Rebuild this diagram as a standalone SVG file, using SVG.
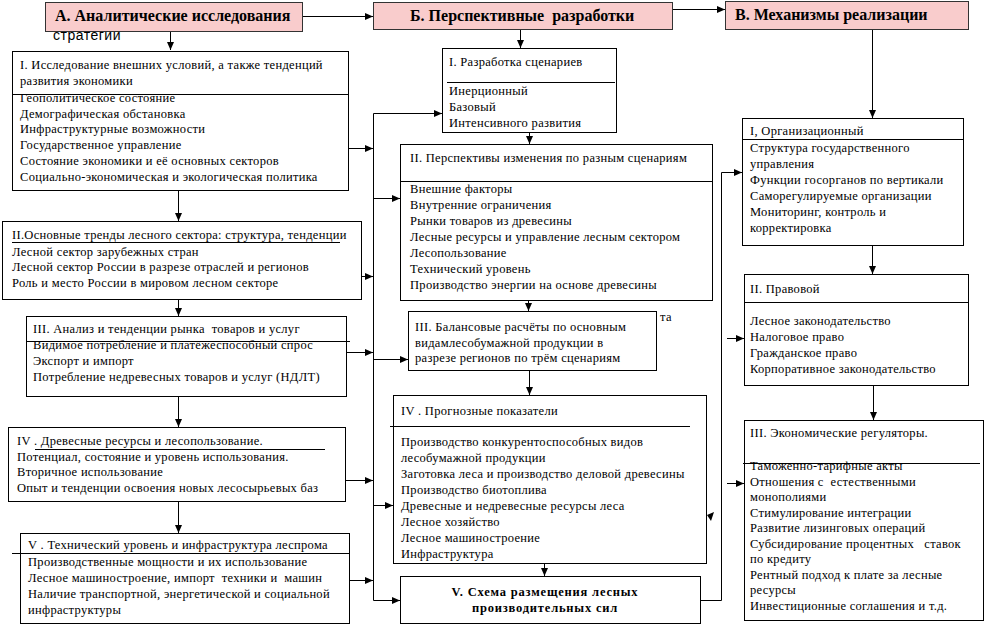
<svg xmlns="http://www.w3.org/2000/svg" width="1001" height="628" viewBox="0 0 1001 628">
<defs>
<marker id="ar" markerUnits="userSpaceOnUse" markerWidth="9" markerHeight="8" refX="8" refY="4" orient="auto">
<path d="M0,0.5 L8,4 L0,7.5 Z" fill="#000"/>
</marker>
</defs>
<style>
.box{fill:#fff;stroke:#000;stroke-width:1}
.hdr{fill:#f9cccc;stroke:#333;stroke-width:1}
.dv{stroke:#000;stroke-width:1;fill:none}
.ln{stroke:#000;stroke-width:1;fill:none}
.a{marker-end:url(#ar)}
.t{font-family:"Liberation Serif","Times New Roman",serif;font-size:12.5px;letter-spacing:0.3px;fill:#000;white-space:pre}
.h{font-family:"Liberation Serif","Times New Roman",serif;font-size:16px;font-weight:bold;fill:#000;white-space:pre}
.b{font-family:"Liberation Serif","Times New Roman",serif;font-size:12.5px;font-weight:bold;letter-spacing:0.8px;fill:#000;text-anchor:middle}
.s{font-family:"Liberation Sans",Arial,sans-serif;font-size:14px;letter-spacing:0.5px;fill:#000}
</style>
<rect width="1001" height="628" fill="#fff"/>

<g id="connectors">
<path class="ln a" d="M302 16.5 H373"/>
<path class="ln a" d="M672 9.5 H725"/>
<path class="ln a" d="M170.5 32 V50"/>
<path class="ln a" d="M178.5 190 V221"/>
<path class="ln a" d="M178.5 300 V316"/>
<path class="ln a" d="M178.5 397 V427"/>
<path class="ln a" d="M178.5 502 V533"/>
<path class="ln a" d="M373.5 600.5 V113.5 H442"/>
<path class="ln a" d="M373.5 600.5 H400"/>
<path class="ln a" d="M348 148.5 H373"/>
<path class="ln a" d="M362 276.5 H373"/>
<path class="ln a" d="M346 352.5 H373"/>
<path class="ln a" d="M345 480.5 H373"/>
<path class="ln a" d="M349 580.5 H373"/>
<path class="ln a" d="M373.5 198.5 H400"/>
<path class="ln a" d="M373.5 359.5 H408"/>
<path class="ln a" d="M373.5 505.5 H393"/>
<path class="ln a" d="M520.5 29 V48"/>
<path class="ln a" d="M529.5 132 V144"/>
<path class="ln a" d="M528.5 300 V311"/>
<path class="ln a" d="M529.5 370 V395"/>
<path class="ln a" d="M544.5 563 V576"/>
<path class="ln a" d="M700 600.5 H721.5 V172.5 H742"/>
<path class="ln a" d="M727 338.5 H744"/>
<path class="ln a" d="M727 483.5 H744"/>
<path class="ln a" d="M872.5 29 V118"/>
<path class="ln a" d="M872.5 245 V274"/>
<path class="ln a" d="M873.5 385 V420"/>
<polygon points="643,19 639.5,26 646.5,26" fill="#000"/>
<polygon points="702,479 698.5,486 705.5,486" fill="#000"/>
<polygon points="714,512 707,515 711,521" fill="#000"/>
</g>

<g id="hdrA">
<rect class="hdr" x="45.5" y="2.5" width="257" height="29"/>
<text class="h" x="55" y="21">А. Аналитические исследования</text>
</g>
<text class="s" x="53" y="40">стратегии</text>

<g id="hdrB">
<rect class="hdr" x="373.5" y="2.5" width="299" height="27"/>
<text class="h" x="410" y="21">Б. Перспективные  разработки</text>
</g>

<g id="hdrC">
<rect class="hdr" x="725.5" y="1.5" width="243" height="28"/>
<text class="h" x="735" y="20">В. Механизмы реализации</text>
</g>

<g id="A1">
<rect class="box" x="12.5" y="51.5" width="336" height="139"/>
<path class="dv" d="M12 94.5 H348"/>
<text class="t" x="20" y="69">I. Исследование внешних условий, а также тенденций</text>
<text class="t" x="20" y="85">развития экономики</text>
<text class="t" x="20" y="102">Геополитическое состояние</text>
<text class="t" x="20" y="118">Демографическая обстановка</text>
<text class="t" x="20" y="133">Инфраструктурные возможности</text>
<text class="t" x="20" y="149">Государственное управление</text>
<text class="t" x="20" y="165">Состояние экономики и её основных секторов</text>
<text class="t" x="20" y="181">Социально-экономическая и экологическая политика</text>
</g>

<g id="A2">
<rect class="box" x="2.5" y="221.5" width="359" height="78"/>
<path class="dv" d="M12 242.5 H340"/>
<text class="t" x="12" y="239">II.Основные тренды лесного сектора: структура, тенденции</text>
<text class="t" x="12" y="256">Лесной сектор зарубежных стран</text>
<text class="t" x="12" y="271">Лесной сектор России в разрезе отраслей и регионов</text>
<text class="t" x="12" y="287">Роль и место России в мировом лесном секторе</text>
</g>

<g id="A3">
<rect class="box" x="26.5" y="316.5" width="320" height="80"/>
<path class="dv" d="M26 341.5 H350"/>
<text class="t" x="33" y="333">III. Анализ и тенденции рынка  товаров и услуг</text>
<text class="t" x="33" y="349">Видимое потребление и платёжеспособный спрос</text>
<text class="t" x="33" y="365">Экспорт и импорт</text>
<text class="t" x="33" y="381">Потребление недревесных товаров и услуг (НДЛТ)</text>
</g>

<g id="A4">
<rect class="box" x="8.5" y="427.5" width="337" height="74"/>
<path class="dv" d="M35 449.5 H325"/>
<text class="t" x="17" y="445">IV . Древесные ресурсы и лесопользование.</text>
<text class="t" x="17" y="461">Потенциал, состояние и уровень использования.</text>
<text class="t" x="17" y="476">Вторичное использование</text>
<text class="t" x="17" y="492">Опыт и тенденции освоения новых лесосырьевых баз</text>
</g>

<g id="A5">
<rect class="box" x="20.5" y="533.5" width="329" height="90"/>
<path class="dv" d="M12 553.5 H349"/>
<text class="t" x="28" y="549">V . Технический уровень и инфраструктура леспрома</text>
<text class="t" x="28" y="566">Производственные мощности и их использование</text>
<text class="t" x="28" y="582">Лесное машиностроение, импорт  техники и  машин</text>
<text class="t" x="28" y="598">Наличие транспортной, энергетической и социальной</text>
<text class="t" x="28" y="614">инфраструктуры</text>
</g>

<g id="B1">
<rect class="box" x="442.5" y="48.5" width="174" height="84"/>
<path class="dv" d="M447 82.5 H615"/>
<text class="t" x="449" y="66">I. Разработка сценариев</text>
<text class="t" x="449" y="95">Инерционный</text>
<text class="t" x="449" y="111">Базовый</text>
<text class="t" x="449" y="127">Интенсивного развития</text>
</g>

<g id="B2">
<rect class="box" x="400.5" y="144.5" width="312" height="156"/>
<path class="dv" d="M400 181.5 H712"/>
<text class="t" x="410" y="162">II. Перспективы изменения по разным сценариям</text>
<text class="t" x="410" y="193">Внешние факторы</text>
<text class="t" x="410" y="209">Внутренние ограничения</text>
<text class="t" x="410" y="225">Рынки товаров из древесины</text>
<text class="t" x="410" y="241">Лесные ресурсы и управление лесным сектором</text>
<text class="t" x="410" y="257">Лесопользование</text>
<text class="t" x="410" y="273">Технический уровень</text>
<text class="t" x="410" y="289">Производство энергии на основе древесины</text>
</g>

<g id="B3">
<rect class="box" x="408.5" y="311.5" width="248" height="59"/>
<text class="t" x="415" y="331">III. Балансовые расчёты по основным</text>
<text class="t" x="415" y="347">видамлесобумажной продукции в</text>
<text class="t" x="415" y="362">разрезе регионов по трём сценариям</text>
</g>
<text class="t" x="660" y="321">та</text>

<g id="B4">
<rect class="box" x="393.5" y="395.5" width="313" height="168"/>
<path class="dv" d="M390 426.5 H690"/>
<text class="t" x="401" y="415">IV . Прогнозные показатели</text>
<text class="t" x="401" y="446">Производство конкурентоспособных видов</text>
<text class="t" x="401" y="462">лесобумажной продукции</text>
<text class="t" x="401" y="478">Заготовка леса и производство деловой древесины</text>
<text class="t" x="401" y="494">Производство биотоплива</text>
<text class="t" x="401" y="510">Древесные и недревесные ресурсы леса</text>
<text class="t" x="401" y="526">Лесное хозяйство</text>
<text class="t" x="401" y="542">Лесное машиностроение</text>
<text class="t" x="401" y="558">Инфраструктура</text>
</g>

<g id="B5">
<rect class="box" x="400.5" y="576.5" width="300" height="47"/>
<text class="b" x="545" y="596">V. Схема размещения лесных</text>
<text class="b" x="545" y="612">производительных сил</text>
</g>

<g id="C1">
<rect class="box" x="742.5" y="118.5" width="221" height="127"/>
<path class="dv" d="M742 139.5 H963"/>
<text class="t" x="750" y="135">I, Организационный</text>
<text class="t" x="750" y="152">Структура государственного</text>
<text class="t" x="750" y="168">управления</text>
<text class="t" x="750" y="184">Функции госорганов по вертикали</text>
<text class="t" x="750" y="200">Саморегулируемые организации</text>
<text class="t" x="750" y="216">Мониторинг, контроль и</text>
<text class="t" x="750" y="232">корректировка</text>
</g>

<g id="C2">
<rect class="box" x="744.5" y="274.5" width="224" height="111"/>
<path class="dv" d="M744 302.5 H968"/>
<text class="t" x="750" y="293">II. Правовой</text>
<text class="t" x="750" y="325">Лесное законодательство</text>
<text class="t" x="750" y="341">Налоговое право</text>
<text class="t" x="750" y="357">Гражданское право</text>
<text class="t" x="750" y="373">Корпоративное законодательство</text>
</g>

<g id="C3">
<rect class="box" x="744.5" y="420.5" width="239" height="200"/>
<path class="dv" d="M743 463.5 H980"/>
<text class="t" x="750" y="437">III. Экономические регуляторы.</text>
<text class="t" x="750" y="470">Таможенно-тарифные акты</text>
<text class="t" x="750" y="486">Отношения с  естественными</text>
<text class="t" x="750" y="501">монополиями</text>
<text class="t" x="750" y="517">Стимулирование интеграции</text>
<text class="t" x="750" y="532">Развитие лизинговых операций</text>
<text class="t" x="750" y="548">Субсидирование процентных   ставок</text>
<text class="t" x="750" y="563">по кредиту</text>
<text class="t" x="750" y="579">Рентный подход к плате за лесные</text>
<text class="t" x="750" y="594">ресурсы</text>
<text class="t" x="750" y="610">Инвестиционные соглашения и т.д.</text>
</g>
</svg>
